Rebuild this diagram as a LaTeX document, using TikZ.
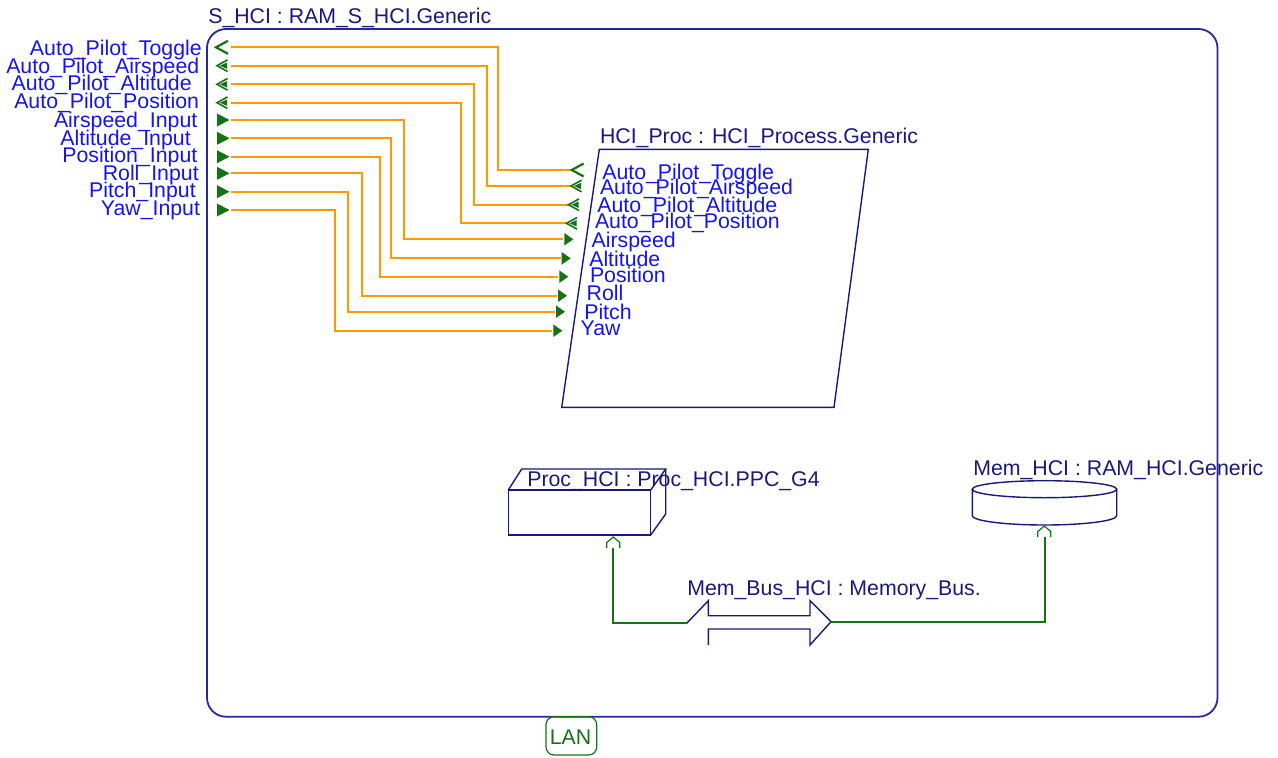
\documentclass[tikz,border=0pt]{standalone}
\usepackage{fontspec}
\setmainfont{Liberation Sans}
\definecolor{navy}{RGB}{25,25,125}
\definecolor{portblue}{RGB}{20,20,235}
\definecolor{wireorange}{RGB}{255,153,0}
\definecolor{pgreen}{RGB}{20,115,20}
\definecolor{boxblue}{RGB}{40,40,150}
\tikzset{
  lbl/.style={inner sep=0pt, outer sep=0pt, font=\fontsize{21.3}{21.3}\selectfont},
  portlbl/.style={lbl, text=portblue},
  complbl/.style={lbl, text=navy},
  wire/.style={draw=wireorange, line width=2pt},
  shapeline/.style={draw=navy, line width=1.4pt, line join=miter},
  gwire/.style={draw=pgreen, line width=1.8pt},
  inportL/.pic={\fill[pgreen] (0,-6.5) -- (12.5,0) -- (0,6.5) -- cycle;},
  inportR/.pic={\fill[pgreen] (0,-6.3) -- (9,0) -- (0,6.3) -- cycle;},
  togglep/.pic={\draw[pgreen, line width=2.2pt] (12,-6.5) -- (0,0) -- (12,6.5);},
  dblp/.pic={\draw[pgreen, line width=1.6pt] (10.5,-5.8) -- (0,0) -- (10.5,5.8);
             \fill[pgreen] (3,0) -- (10,-3.2) -- (10,3.2) -- cycle;},
  busport/.pic={\draw[pgreen, line width=1.2pt] (-6.5,7) -- (-6.5,1.5) -- (0,-4) -- (6.5,1.5) -- (6.5,7);},
}
\begin{document}
\begin{tikzpicture}[x=1pt,y=-1pt]
\useasboundingbox (0,0) rectangle (1278,758);

% outer system box
\coordinate (SysNW) at (207,29);
\coordinate (SysSE) at (1217.5,716.7);
\draw[draw=boxblue, line width=1.8pt, rounded corners=19pt] (SysNW) rectangle (SysSE);
\node[complbl, anchor=base west] (syslbl) at (208.3,23.8) {S\_HCI : RAM\_S\_HCI.Generic};

% left port labels
\node[portlbl, anchor=base east] (lp1) at (201.7,55.5) {Auto\_Pilot\_Toggle};
\node[portlbl, anchor=base east] (lp2) at (199.3,73.8) {Auto\_Pilot\_Airspeed};
\node[portlbl, anchor=base east] (lp3) at (191.7,90.5) {Auto\_Pilot\_Altitude};
\node[portlbl, anchor=base east] (lp4) at (199,108.8) {Auto\_Pilot\_Position};
\node[portlbl, anchor=base east] (lp5) at (197.3,127.2) {Airspeed\_Input};
\node[portlbl, anchor=base east] (lp6) at (190.7,145.5) {Altitude\_Input};
\node[portlbl, anchor=base east] (lp7) at (197.3,162.8) {Position\_Input};
\node[portlbl, anchor=base east] (lp8) at (198.7,180.5) {Roll\_Input};
\node[portlbl, anchor=base east] (lp9) at (195.7,197.2) {Pitch\_Input};
\node[portlbl, anchor=base east] (lp10) at (200,215.5) {Yaw\_Input};

% process parallelogram
\coordinate (PrNW) at (599.3,149.3);
\coordinate (PrNE) at (868.3,149.3);
\coordinate (PrSE) at (834,407.3);
\coordinate (PrSW) at (561.7,407.3);
\draw[shapeline] (PrNW) -- (PrNE) -- (PrSE) -- (PrSW) -- cycle;
\node[complbl, anchor=base west] (proclbl) at (600,143.8) {HCI\_Proc : HCI\_Process.Generic};

\node[portlbl, anchor=base west] (rp1) at (602.3,179.5) {Auto\_Pilot\_Toggle};
\node[portlbl, anchor=base west] (rp2) at (600,194.5) {Auto\_Pilot\_Airspeed};
\node[portlbl, anchor=base west] (rp3) at (597.3,212.2) {Auto\_Pilot\_Altitude};
\node[portlbl, anchor=base west] (rp4) at (595,228.8) {Auto\_Pilot\_Position};
\node[portlbl, anchor=base west] (rp5) at (591.7,247.8) {Airspeed};
\node[portlbl, anchor=base west] (rp6) at (589.3,266.5) {Altitude};
\node[portlbl, anchor=base west] (rp7) at (590,282.8) {Position};
\node[portlbl, anchor=base west] (rp8) at (586.7,300.5) {Roll};
\node[portlbl, anchor=base west] (rp9) at (584.3,319.8) {Pitch};
\node[portlbl, anchor=base west] (rp10) at (580.7,335.5) {Yaw};

% wires
\foreach \i/\yl/\vx/\yr/\xr in {1/47.3/497.7/170/571.7, 2/65.7/486.7/186/571, 3/84.3/474/204.7/568.5, 4/102.7/460.7/223.3/566.5,
  5/120/404.3/239.3/563, 6/138.3/391/258.3/560.5, 7/156.7/380.3/276.7/558, 8/173.3/362/295.7/557, 9/191.7/348.3/311.7/555, 10/210/335/330.7/552} {
  \coordinate (L\i) at (230.5,\yl);
  \coordinate (V\i) at (\vx,\yl);
  \coordinate (R\i) at (\xr,\yr);
  \draw[wire] (L\i) -- (V\i) |- (R\i);
}

% left port markers
\pic at (216,47.3) {togglep};
\pic at (217,65.7) {dblp};
\pic at (217,84.3) {dblp};
\pic at (217,102.7) {dblp};
\foreach \y in {120,138.3,156.7,173.3,191.7,210} { \pic at (217,\y) {inportL}; }

% right port markers
\pic at (571.7,170) {togglep};
\pic at (571,186) {dblp};
\pic at (568.5,204.7) {dblp};
\pic at (566.5,223.3) {dblp};
\pic at (564.3,239.3) {inportR};
\pic at (561.7,258.3) {inportR};
\pic at (559.3,276.7) {inportR};
\pic at (558,295.7) {inportR};
\pic at (556,311.7) {inportR};
\pic at (553.3,330.7) {inportR};

% processor box
\coordinate (CpA) at (508.3,490);
\coordinate (CpB) at (650.7,490);
\coordinate (CpC) at (650.7,535);
\coordinate (CpD) at (508.3,535);
\coordinate (CpE) at (521.7,469);
\coordinate (CpF) at (665.7,469);
\coordinate (CpG) at (665.7,514);
\draw[shapeline] (CpA) -- (CpB) -- (CpC) -- (CpD) -- cycle;
\draw[shapeline] (CpA) -- (CpE) -- (CpF) -- (CpB);
\draw[shapeline] (CpF) -- (CpG) -- (CpC);
\node[complbl, anchor=base west] (cpulbl) at (527.3,486.2) {Proc\_HCI : Proc\_HCI.PPC\_G4};

% memory cylinder
\coordinate (MemTop) at (1044.5,489.2);
\coordinate (MemBot) at (1044.5,515.7);
\draw[shapeline] (MemTop) ellipse [x radius=72.2, y radius=8.5];
\draw[shapeline] (972.3,489.2) -- (972.3,515.7) arc[start angle=180, end angle=360, x radius=72.2, y radius=-9.3] -- (1116.7,489.2);
\node[complbl, anchor=base west] (memlbl) at (973.3,475.5) {Mem\_HCI : RAM\_HCI.Generic};

% bus ports
\coordinate (CpPort) at (613.3,541);
\coordinate (MemPort) at (1044.3,530);
\pic at (CpPort) {busport};
\pic at (MemPort) {busport};

% bus arrow
\coordinate (BusL) at (686.7,623.3);
\coordinate (BusR) at (831,621.7);
\draw[shapeline] (BusL) -- (708.3,600.7) -- (708.3,615.7) -- (810,615.7) -- (810,600.7) -- (BusR)
  -- (810,645) -- (810,629) -- (708.3,629) -- (708.3,645);
\node[complbl, anchor=base west] (buslbl) at (687.3,595.5) {Mem\_Bus\_HCI : Memory\_Bus.};

% bus connections
\coordinate (CpWire) at (613,548);
\coordinate (MemWire) at (1045,537);
\draw[gwire] (CpWire) |- (BusL);
\draw[gwire] (BusR) -| (MemWire);

% LAN port
\draw[draw=pgreen, line width=1.2pt, rounded corners=8pt] (546,716.7) rectangle (596.7,755);
\node[lbl, text=pgreen, anchor=base] (lan) at (570.5,744.8) {LAN};
\end{tikzpicture}
\end{document}
